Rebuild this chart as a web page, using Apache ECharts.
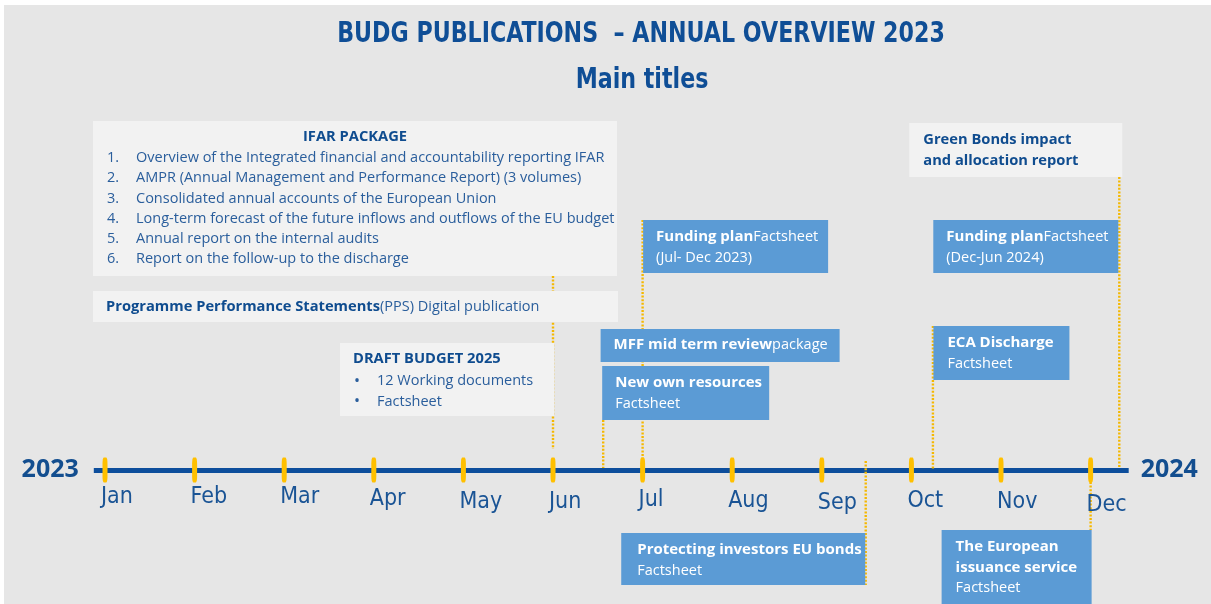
<!DOCTYPE html>
<html><head><meta charset="utf-8">
<script src="https://cdn.jsdelivr.net/npm/echarts@6/dist/echarts.min.js"></script>
<style>html,body{margin:0;padding:0;background:#fff}#c{width:1211px;height:604px}</style>
</head><body><div id="c"></div>
<script>
// ---------- data ----------
const months = ['Jan','Feb','Mar','Apr','May','Jun','Jul','Aug','Sep','Oct','Nov','Dec'];
const monthIndex = [0,1,2,3,4,5,6,7,8,9,10,11];
const years = ['2023','2024'];
const mainTitle = 'BUDG PUBLICATIONS  \u2013 ANNUAL OVERVIEW 2023';
const subTitle = 'Main titles';
const pubTitles = [
  'IFAR PACKAGE',
  'Programme Performance Statements',
  'DRAFT BUDGET 2025',
  'Funding plan',
  'MFF mid term review',
  'New own resources',
  'Protecting investors EU bonds',
  'Green Bonds impact\nand allocation report',
  'Funding plan',
  'ECA Discharge',
  'The European\nissuance service'
];
const pubDetails = [
  ['Overview of the Integrated financial and accountability reporting IFAR',
   'AMPR (Annual Management and Performance Report) (3 volumes)',
   'Consolidated annual accounts of the European Union',
   'Long-term forecast of the future inflows and outflows of the EU budget',
   'Annual report on the internal audits',
   'Report on the follow-up to the discharge'],
  ['(PPS) Digital publication'],
  ['12 Working documents','Factsheet'],
  ['Factsheet','(Jul- Dec 2023)'],
  ['package'],
  ['Factsheet'],
  ['Factsheet'],
  [],
  ['Factsheet','(Dec-Jun 2024)'],
  ['Factsheet'],
  ['Factsheet']
];
// publication date on the timeline, in months from January (0 = Jan)
const pubDates = [5.0, 5.0, 5.0, 6.0, 6.0, 5.56, 8.49, 11.32, 11.32, 9.24, 11.0];

// ---------- layout (pixels relative to the date anchor) ----------
const TL = 470; // timeline level on the vertical layout axis
const BOX = [
  {kind:'light', fmt:'list',    dx:-460, top:121, w:524, h:155, tx:14, from:276, to:449},
  {kind:'light', fmt:'inline',  dx:-460, top:291, w:525, h:31, tx:13},
  {kind:'light', fmt:'bullets', dx:-213, top:343, w:214, h:73, tx:13},
  {kind:'blue',  fmt:'inline2', dx:0.5,  top:220, w:185, h:53, tx:13, from:220, to:470},
  {kind:'blue',  fmt:'inline',  dx:-42,  top:329, w:239, h:33, tx:13},
  {kind:'blue',  fmt:'lines',   dx:-1,   top:366, w:167, h:54, tx:13, from:420, to:468},
  {kind:'blue',  fmt:'lines',   dx:-244.5, top:533, w:244, h:52, tx:16, from:461, to:585},
  {kind:'light', fmt:'lines',   dx:-210, top:123, w:213, h:54, tx:14, from:177, to:468},
  {kind:'blue',  fmt:'inline2', dx:-186, top:220, w:185, h:53, tx:13},
  {kind:'blue',  fmt:'lines',   dx:0.5,  top:326, w:136, h:54, tx:14, from:326, to:470},
  {kind:'blue',  fmt:'lines',   dx:-149, top:530, w:150, h:80, tx:14, from:482, to:530}
];
const monthLabelDy = [0,0,0,2,5,5,3,4,6,4,5,8];

const FB = "bold 15px 'Open Sans', sans-serif";
const FBL = "bold 14.7px 'Open Sans', sans-serif";
const FR = "14.5px 'Open Sans', sans-serif";
const DARK = '#0f4c8f', MID = '#2a5e9c';
const COND = "'Liberation Sans Narrow', 'DejaVu Sans Condensed', sans-serif";

function T(x, y, text, font, fill, align) {
  return {type:'text', style:{x:x, y:y, text:text, font:font, fill:fill, align:align||'left', verticalAlign:'middle'}};
}
function R(x, y, b, r, cb, cr, fb) {
  return {type:'text', style:{x:x, y:y, text:'{b|'+b+'}{r|'+r+'}', verticalAlign:'middle', align:'left',
    rich:{b:{font:fb, fill:cb}, r:{font:FR, fill:cr}}}};
}

function renderBox(params, api) {
  const i = api.value(1);
  const L = BOX[i];
  const p = api.coord([api.value(0), L.top]);
  const x = p[0] + L.dx, y = p[1];
  const light = L.kind === 'light';
  const cb = light ? DARK : '#ffffff';
  const cr = light ? MID : '#ffffff';
  const fb = light ? FBL : FB;
  const ch = [{type:'rect', shape:{x:x, y:y, width:L.w, height:L.h}, style:{fill: light ? '#f2f2f2' : '#5b9bd5'}}];
  const title = pubTitles[i], det = pubDetails[i];
  const lh = 20.5, tx = x + L.tx;
  if (L.fmt === 'list') {
    ch.push(T(x + L.w/2, y + 16, title, fb, DARK, 'center'));
    det.forEach(function (t, k) {
      ch.push(T(x + 14, y + 37 + k*20.2, (k+1) + '.', FR, MID));
      ch.push(T(x + 43, y + 37 + k*20.2, t, FR, MID));
    });
  } else if (L.fmt === 'inline') {
    ch.push(R(tx, y + 16, title, det[0], cb, cr, fb));
  } else if (L.fmt === 'inline2') {
    ch.push(R(tx, y + 17, title, det[0], cb, cr, fb));
    ch.push(T(tx, y + 17 + lh, det[1], FR, cr));
  } else if (L.fmt === 'bullets') {
    ch.push(T(tx, y + 16, title, fb, DARK));
    det.forEach(function (t, k) {
      ch.push(T(x + 14, y + 38 + k*20.5, '\u2022', "16px 'Open Sans', sans-serif", MID));
      ch.push(T(x + 37, y + 38 + k*20.5, t, FR, MID));
    });
  } else {
    const tl = title.split('\n');
    let yy = y + 17;
    tl.forEach(function (t) { ch.push(T(tx, yy, t, fb, cb)); yy += lh; });
    det.forEach(function (t) { ch.push(T(tx, yy, t, FR, cr)); yy += lh; });
  }
  return {type:'group', children:ch};
}

function renderConnector(params, api) {
  const a = api.coord([api.value(0), api.value(1)]);
  const b = api.coord([api.value(0), api.value(2)]);
  return {type:'line', shape:{x1:a[0], y1:a[1], x2:b[0], y2:b[1]},
    style:{stroke:'#f5b800', lineWidth:2.4, lineDash:[2,1.6]}};
}

const XMIN = -0.125, XMAX = 11.425;
const connData = [];
BOX.forEach(function (L, i) { if (L.from != null) connData.push([pubDates[i], L.from, L.to]); });

const chart = echarts.init(document.getElementById('c'), null, {renderer:'canvas'});
chart.setOption({
  backgroundColor:'#e6e6e6',
  animation:false,
  grid:{left:93.8, top:0, width:1034.9, height:TL, containLabel:false, outerBoundsMode:'none'},
  xAxis:{type:'value', min:XMIN, max:XMAX, position:'bottom',
    axisLine:{show:true, onZero:false, lineStyle:{color:'#0d4e9c', width:5, cap:'butt'}},
    axisTick:{show:false}, axisLabel:{show:false}, splitLine:{show:false}},
  yAxis:{type:'value', inverse:true, min:0, max:TL, show:false, splitLine:{show:false}},
  graphic:[
    {type:'rect', shape:{x:0, y:0, width:1211, height:5}, style:{fill:'#ffffff'}, silent:true},
    {type:'rect', shape:{x:0, y:0, width:4, height:604}, style:{fill:'#ffffff'}, silent:true},
    {type:'text', x:641, y:35, scaleX:0.88, style:{text:mainTitle, font:"bold 28px " + COND, fill:'#0f4e96', align:'center', verticalAlign:'middle'}},
    {type:'text', x:642, y:81, scaleX:0.88, style:{text:subTitle, font:"bold 28px " + COND, fill:'#0f4e96', align:'center', verticalAlign:'middle'}}
  ],
  series:[
    {type:'custom', name:'connectors', clip:false, z:2, renderItem:renderConnector, data:connData, silent:true},
    {type:'custom', name:'publications', clip:false, z:3, renderItem:renderBox,
      data:pubDates.map(function (d, i) { return [d, i]; }), silent:true},
    {type:'scatter', name:'months', z:5, symbol:'roundRect', symbolSize:[5,25], itemStyle:{color:'#ffc000', opacity:1},
      data:monthIndex.map(function (m, i) {
        return {value:[m, TL], label:{show:true, formatter:months[i], position:[-1.5, 40 + monthLabelDy[i]],
          align:'left', verticalAlign:'middle', color:'#1a5495',
          fontSize:23, fontFamily:COND}};
      }), silent:true},
    {type:'scatter', name:'years', z:5, symbolSize:0, itemStyle:{opacity:1},
      data:[
        {value:[XMIN, TL], label:{show:true, formatter:years[0], position:'left', distance:15}},
        {value:[XMAX, TL], label:{show:true, formatter:years[1], position:'right', distance:12}}
      ],
      label:{color:'#134e8f', fontSize:25, fontWeight:'bold', fontFamily:"'Open Sans', sans-serif", verticalAlign:'middle'},
      silent:true}
  ]
});
</script></body></html>
